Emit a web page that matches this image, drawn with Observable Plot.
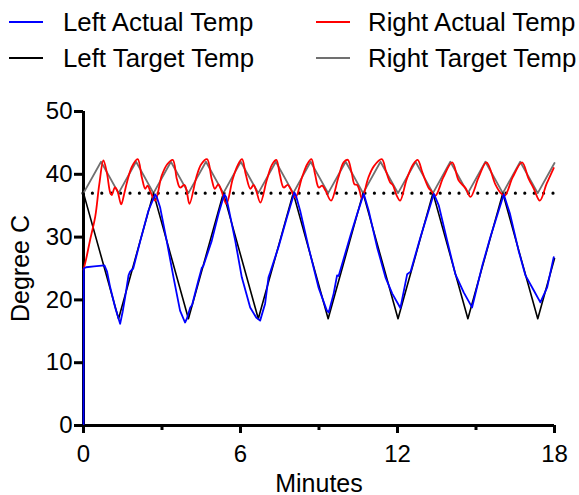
<!DOCTYPE html>
<html><head><meta charset="utf-8">
<script src="https://cdn.jsdelivr.net/npm/d3@7"></script>
<script src="https://cdn.jsdelivr.net/npm/@observablehq/plot@0.6"></script>
<style>
body{margin:0;background:#fff;font-family:"Liberation Sans",Arial,sans-serif;}
#legend{position:relative;width:579px;height:90px;}
.item{position:absolute;display:flex;align-items:center;font-size:25.8px;line-height:28px;color:#000;white-space:nowrap;}
.sw{width:34px;height:2px;}
</style></head><body>
<div id="legend"></div>
<div id="chart"></div>
<script>
// Series names / colours
const seriesNames = ["Left Actual Temp", "Right Actual Temp", "Left Target Temp", "Right Target Temp"];
const seriesColors = ["#0000ff", "#ff0000", "#000000", "#707070"];

// Axis ticks
const yTicks = [0, 10, 20, 30, 40, 50];
const xMajor = [0, 6, 12, 18];
const xMinor = [3, 9, 15];
const setPoint = 37;

// Left target (minutes, degC)
const leftTargetT = [0, 1.34, 2.675, 4.01, 5.345, 6.68, 8.015, 9.35, 10.685, 12.02, 13.355, 14.69, 16.025, 17.36, 18];
const leftTargetV = [37, 17, 37, 17, 37, 17, 37, 17, 37, 17, 37, 17, 37, 17, 26.6];

// Right target
const rightTargetT = [0, 0.67, 1.34, 2.01, 2.675, 3.34, 4.01, 4.68, 5.345, 6.01, 6.68, 7.35, 8.015, 8.68, 9.35, 10.02, 10.685, 11.35, 12.02, 12.69, 13.355, 14.02, 14.69, 15.36, 16.025, 16.69, 17.36, 18];
const rightTargetV = [37, 42, 37, 42, 37, 42, 37, 42, 37, 42, 37, 42, 37, 42, 37, 42, 37, 42, 37, 42, 37, 42, 37, 42, 37, 42, 37, 41.8];

// Right actual
const rightActualT = [0, 0.1, 0.25, 0.45, 0.6, 0.76, 0.89, 1.02, 1.08, 1.2, 1.3, 1.44, 1.55, 1.66, 1.85, 2.07, 2.23, 2.36, 2.45, 2.55, 2.74, 2.99, 3.2, 3.41, 3.57, 3.69, 3.86, 3.95, 4.05, 4.33, 4.5, 4.72, 4.9, 5.02, 5.15, 5.27, 5.46, 5.7, 5.9, 6.06, 6.2, 6.38, 6.5, 6.6, 6.76, 7.0, 7.2, 7.37, 7.5, 7.65, 7.8, 7.92, 8.1, 8.35, 8.55, 8.71, 8.85, 8.99, 9.12, 9.25, 9.46, 9.74, 9.94, 10.1, 10.25, 10.36, 10.46, 10.55, 10.64, 10.89, 11.1, 11.4, 11.56, 11.72, 11.82, 11.97, 12.1, 12.35, 12.6, 12.77, 12.95, 13.18, 13.3, 13.45, 13.75, 14.09, 14.34, 14.6, 14.79, 15.1, 15.4, 15.74, 15.93, 16.1, 16.4, 16.76, 17.0, 17.21, 17.44, 17.7, 17.97];
const rightActualV = [24.8, 26.5, 29.5, 33.3, 38.3, 42.2, 40.3, 37.1, 36.7, 37.9, 37.3, 35.2, 36.8, 38.7, 41.2, 42.4, 39.5, 37.7, 38.2, 37.3, 35.8, 39.8, 41.6, 42.3, 39.2, 37.9, 38.3, 37.2, 35.3, 39.8, 41.6, 42.4, 39.2, 37.7, 38.4, 37.4, 35.3, 39.2, 41.5, 42.4, 40.0, 37.7, 38.3, 37.4, 35.5, 39.0, 41.5, 42.3, 40.0, 37.9, 38.3, 37.6, 36.3, 39.5, 41.6, 42.4, 40.0, 37.9, 38.2, 37.4, 35.8, 39.5, 41.9, 42.3, 40.2, 38.4, 38.3, 37.4, 36.1, 39.5, 41.3, 42.4, 40.5, 38.7, 38.3, 36.6, 35.8, 39.2, 41.6, 42.3, 40.3, 37.9, 37.3, 36.6, 39.5, 41.9, 39.0, 37.8, 36.4, 39.5, 41.9, 38.4, 37.1, 36.6, 39.5, 41.9, 39.4, 37.7, 35.8, 38.5, 41.0];

// Left actual
const leftActualT = [0, 0.01, 0.1, 0.4, 0.8, 0.9, 1.02, 1.21, 1.4, 1.5, 1.59, 1.72, 1.78, 1.9, 2.17, 2.48, 2.74, 2.8, 2.93, 3.18, 3.44, 3.69, 3.88, 3.95, 4.08, 4.15, 4.39, 4.52, 4.58, 4.9, 5.16, 5.38, 5.45, 5.54, 5.8, 6.05, 6.37, 6.6, 6.75, 6.94, 7.07, 7.13, 7.45, 7.77, 8.06, 8.12, 8.28, 8.6, 8.98, 9.3, 9.37, 9.56, 9.69, 9.75, 10.2, 10.46, 10.71, 10.9, 11.22, 11.54, 11.8, 12.11, 12.37, 12.5, 12.88, 13.39, 13.58, 13.9, 14.21, 14.53, 14.85, 15.1, 15.23, 15.55, 16.06, 16.3, 16.63, 16.89, 17.21, 17.46, 17.72, 17.97];
const leftActualV = [0, 25.0, 25.2, 25.35, 25.5, 24.5, 22.0, 18.8, 16.2, 18.2, 20.4, 23.9, 24.5, 25.0, 29.4, 34.2, 36.8, 36.4, 34.7, 29.4, 23.6, 18.3, 16.4, 17.0, 18.8, 19.2, 23.1, 25.1, 25.4, 29.4, 33.7, 36.8, 36.4, 34.7, 29.4, 23.6, 18.8, 17.2, 16.7, 19.4, 23.6, 24.3, 28.4, 33.1, 37.1, 36.6, 34.2, 28.4, 22.0, 18.3, 18.0, 21.0, 23.9, 23.8, 30.2, 33.7, 36.9, 34.2, 28.4, 23.6, 21.0, 18.7, 24.1, 24.5, 30.0, 36.9, 35.0, 29.4, 24.1, 21.2, 18.8, 23.1, 25.3, 30.0, 36.8, 33.7, 27.8, 23.9, 21.5, 19.6, 22.0, 26.8];

const zip = (T, V) => T.map((t, i) => ({t, v: V[i]}));
const leftActual = zip(leftActualT, leftActualV);
const rightActual = zip(rightActualT, rightActualV);
const leftTarget = zip(leftTargetT, leftTargetV);
const rightTarget = zip(rightTargetT, rightTargetV);

// Legend (HTML, above the SVG)
const legendPos = [[9, 8], [316, 8], [9, 44], [316, 44]];
const legend = document.getElementById("legend");
seriesNames.forEach((name, i) => {
  const d = document.createElement("div");
  d.className = "item";
  d.style.left = legendPos[i][0] + "px";
  d.style.top = legendPos[i][1] + "px";
  const s = document.createElement("span");
  s.className = "sw";
  s.style.background = seriesColors[i];
  s.style.marginRight = (i % 2 === 0 ? 20 : 18) + "px";
  const t = document.createElement("span");
  t.textContent = name;
  d.appendChild(s); d.appendChild(t);
  legend.appendChild(d);
});

const chart = Plot.plot({
  width: 579,
  height: 405,
  marginTop: 21,
  marginBottom: 70,
  marginLeft: 83,
  marginRight: 25,
  style: {fontFamily: "'Liberation Sans', Arial, sans-serif", fontSize: "24px", color: "#000", background: "#fff", overflow: "visible"},
  x: {domain: [0, 18]},
  y: {domain: [0, 50]},
  marks: [
    Plot.ruleX([0], {stroke: "#000", strokeWidth: 3}),
    Plot.ruleY([0], {stroke: "#000", strokeWidth: 3}),
    Plot.ruleY([setPoint], {stroke: "#000", strokeWidth: 3.2, strokeDasharray: "0 9.4", strokeLinecap: "round"}),
    Plot.line(rightTarget, {x: "t", y: "v", stroke: seriesColors[3], strokeWidth: 1.8}),
    Plot.line(leftTarget, {x: "t", y: "v", stroke: seriesColors[2], strokeWidth: 1.6}),
    Plot.line(rightActual, {x: "t", y: "v", stroke: seriesColors[1], strokeWidth: 1.8, curve: "catmull-rom"}),
    Plot.line(leftActual, {x: "t", y: "v", stroke: seriesColors[0], strokeWidth: 1.8}),
    Plot.axisY({ticks: yTicks, tickSize: 9, tickPadding: 2, strokeWidth: 3, fontSize: 24, label: null}),
    Plot.axisY({ticks: [], fontSize: 25, label: "Degree C", labelArrow: "none", labelAnchor: "center", labelOffset: 72}),
    Plot.axisX({ticks: xMajor, tickSize: 8, tickPadding: 11, strokeWidth: 3, fontSize: 24, label: null}),
    Plot.axisX({ticks: [], fontSize: 25, label: "Minutes", labelArrow: "none", labelAnchor: "center", labelOffset: 66}),
    Plot.axisX({ticks: xMinor, tickSize: 5, strokeWidth: 3, tickFormat: () => "", label: null})
  ]
});
document.getElementById("chart").appendChild(chart);
</script>
</body></html>
